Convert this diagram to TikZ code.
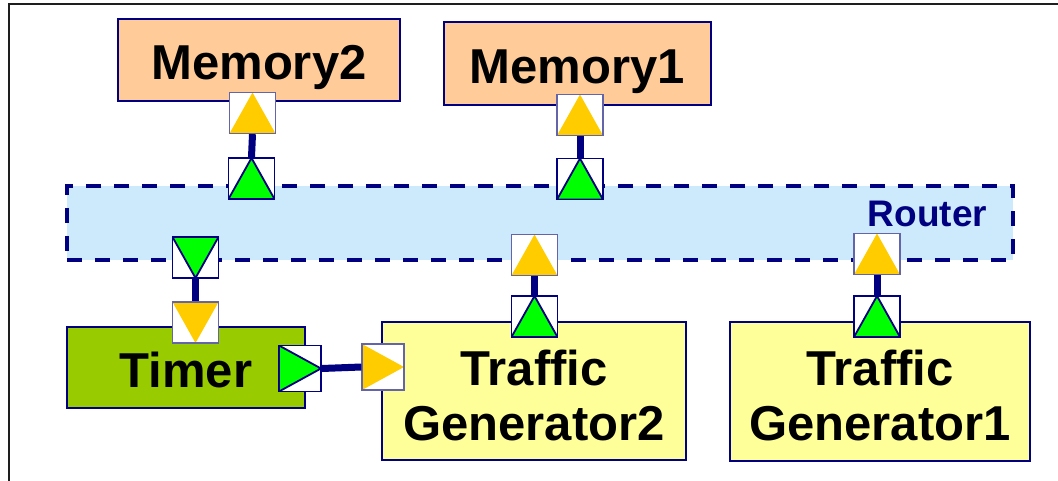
\documentclass[tikz,border=0pt]{standalone}
\usepackage{fontspec}
\setmainfont{Liberation Sans}
\definecolor{navy}{RGB}{0,0,128}
\definecolor{ybord}{RGB}{100,100,170}
\definecolor{memfill}{RGB}{255,204,153}
\definecolor{routfill}{RGB}{204,234,252}
\definecolor{timfill}{RGB}{153,204,0}
\definecolor{trafill}{RGB}{255,255,153}
\definecolor{yel}{RGB}{255,204,0}
\definecolor{grn}{RGB}{0,255,0}
\definecolor{framec}{RGB}{30,30,30}
\begin{document}
\begin{tikzpicture}[x=1pt,y=-1pt,
  box/.style={draw=navy, line width=2pt, inner sep=0pt, align=center,
    font=\bfseries\fontsize{49}{55}\selectfont},
  membox/.style={box, fill=memfill, text height=40pt, text depth=0pt},
  timbox/.style={box, fill=timfill, text height=40pt, text depth=0pt},
  trabox/.style={box, fill=trafill, text height=98pt, text depth=0pt},
  port/.style={inner sep=0pt, fill=white},
  vport/.style={port, minimum width=46pt, minimum height=41pt},
  hport/.style={port, minimum width=42pt, minimum height=46pt},
  yb/.style={draw=ybord, line width=1.3pt},
  gb/.style={draw=navy, line width=1.8pt},
  yup/.style={vport, yb, path picture={\fill[yel] (path picture bounding box.south west) -- (path picture bounding box.north) -- (path picture bounding box.south east) -- cycle;}},
  ydown/.style={vport, yb, path picture={\fill[yel] (path picture bounding box.north west) -- (path picture bounding box.south) -- (path picture bounding box.north east) -- cycle;}},
  yright/.style={hport, yb, path picture={\fill[yel] (path picture bounding box.north west) -- (path picture bounding box.east) -- (path picture bounding box.south west) -- cycle;}},
  gup/.style={vport, gb, path picture={\filldraw[fill=grn, draw=navy, line width=1.8pt] (path picture bounding box.south west) -- (path picture bounding box.north) -- (path picture bounding box.south east) -- cycle;}},
  gdown/.style={vport, gb, path picture={\filldraw[fill=grn, draw=navy, line width=1.8pt] (path picture bounding box.north west) -- (path picture bounding box.south) -- (path picture bounding box.north east) -- cycle;}},
  gright/.style={hport, gb, path picture={\filldraw[fill=grn, draw=navy, line width=1.8pt] (path picture bounding box.north west) -- (path picture bounding box.east) -- (path picture bounding box.south west) -- cycle;}},
  conn/.style={draw=navy, line width=7pt}
]
\useasboundingbox (0,0) rectangle (1058,481);
% frame
\draw[framec, line width=2.5pt] (9,481) -- (9,4) -- (1058,4);
% router
\node[draw=navy, fill=routfill, line width=4pt, dash pattern=on 15pt off 13pt,
  minimum width=946pt, minimum height=74pt, inner sep=0pt] (router) at (540,223) {};
\node[anchor=base, text=navy, font=\bfseries\fontsize{37}{40}\selectfont, inner sep=0pt] (routerlbl) at (927.5,227) {Router};
% boxes
\node[membox, minimum width=282pt, minimum height=82pt] (mem2) at (259,60) {Memory2};
\node[membox, minimum width=267pt, minimum height=83pt] (mem1) at (577.5,63.5) {Memory1};
\node[timbox, minimum width=238pt, minimum height=81pt] (timer) at (186,367.5) {Timer};
\node[trabox, minimum width=304pt, minimum height=138pt] (tg2) at (534,391) {Traffic\\Generator2};
\node[trabox, minimum width=300pt, minimum height=139pt] (tg1) at (880,391.5) {Traffic\\Generator1};
% ports
\node[yup] (m2y) at (252.5,113) {};
\node[gup] (m2g) at (251.5,178.5) {};
\node[yup] (m1y) at (580,115) {};
\node[gup] (m1g) at (580,179) {};
\node[gdown] (tmg) at (195.5,257.5) {};
\node[ydown] (tmy) at (195.5,322.5) {};
\node[yup] (t2y) at (534.5,255) {};
\node[gup] (t2g) at (534.5,316.5) {};
\node[yup] (t1y) at (877,254) {};
\node[gup] (t1g) at (877,316.5) {};
\node[gright] (tro) at (300,368.5) {};
\node[yright] (g2i) at (383,367) {};
% connectors
\draw[conn] (m2y.south) -- (m2g.north);
\draw[conn] (m1y.south) -- (m1g.north);
\draw[conn] (tmg.south) -- (tmy.north);
\draw[conn] (t2y.south) -- (t2g.north);
\draw[conn] (t1y.south) -- (t1g.north);
\draw[conn] (tro.east) -- (g2i.west);
\end{tikzpicture}
\end{document}
